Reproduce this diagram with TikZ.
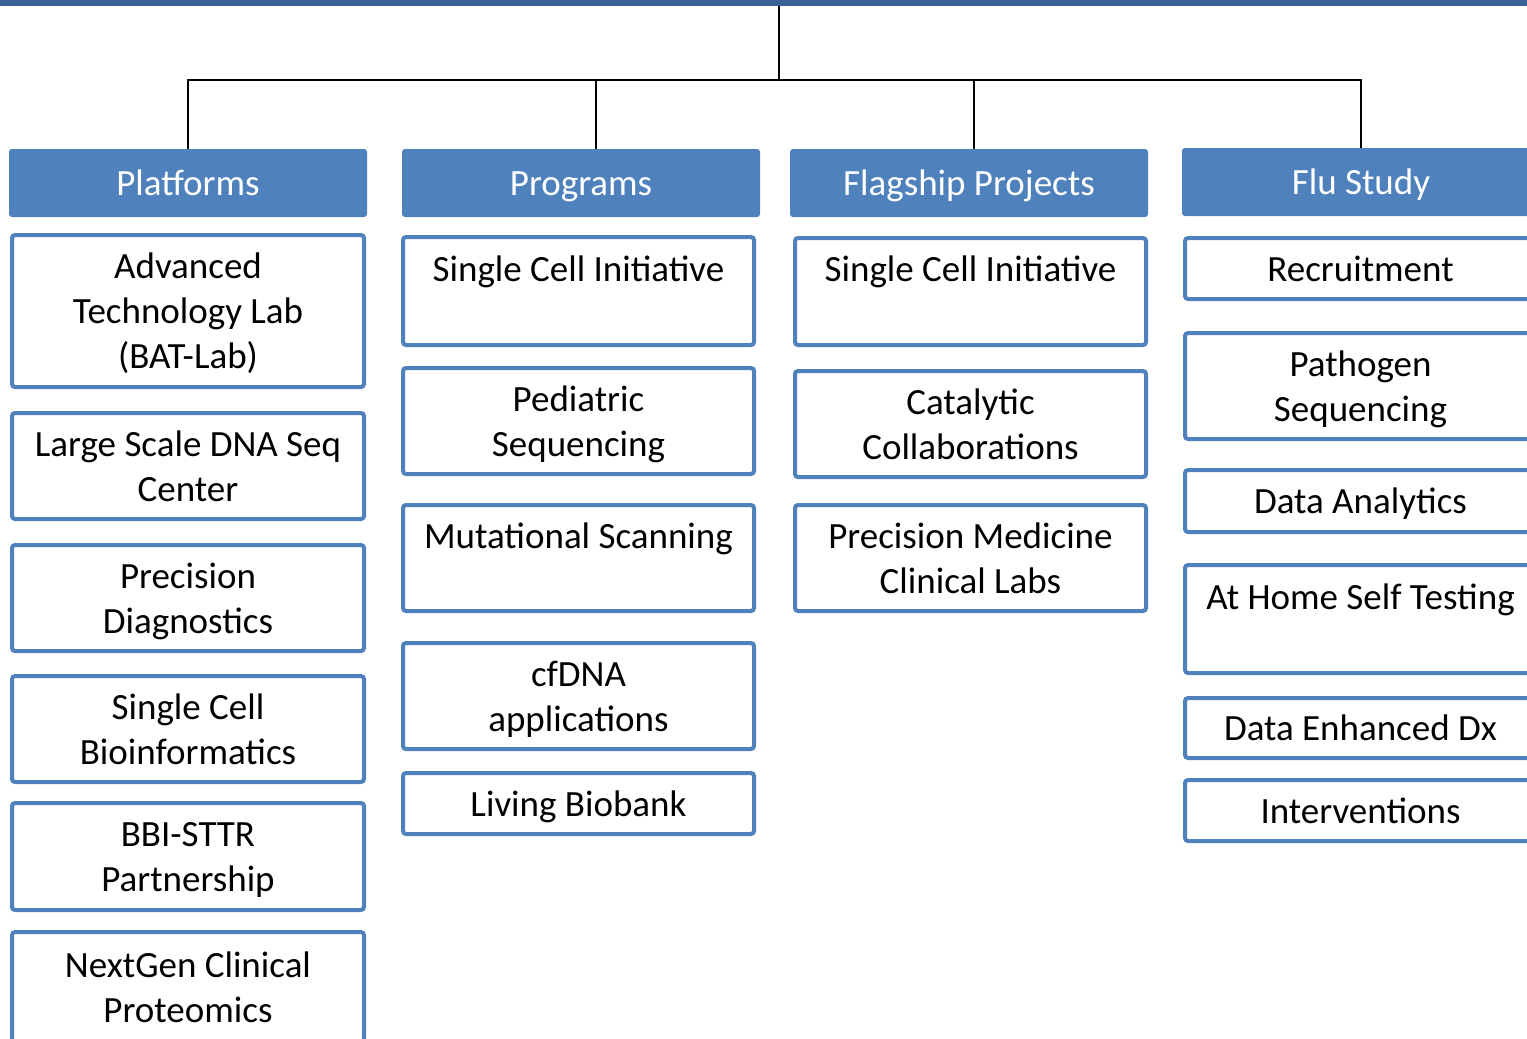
\documentclass[tikz,border=0pt]{standalone}
\usepackage{fontspec}
\setmainfont{Carlito}
\definecolor{hblue}{HTML}{4F81BD}
\definecolor{barblue}{HTML}{3A6294}
\newcommand{\ostrut}{\rule[-10pt]{0pt}{45pt}}
\tikzset{
  hdr/.style={fill=hblue, rounded corners=3pt, text=white, minimum width=358pt, minimum height=68pt, inner sep=0pt},
  item/.style={draw=hblue, line width=4pt, fill=white, rounded corners=3pt, inner sep=0pt, align=center, minimum width=351pt},
  conn/.style={draw=black, line width=2pt},
}
\begin{document}
\begin{tikzpicture}[x=1pt, y=-1pt, font=\fontsize{37}{45}\selectfont]
\clip (0,0) rectangle (1527,1039);
\fill[white] (0,0) rectangle (1527,1039);
% top bar
\node[fill=barblue, minimum width=1527pt, minimum height=5.5pt, inner sep=0pt, anchor=north west] (bar) at (0,0) {};
\coordinate (hub) at (779,80);
% headers
\node[hdr] (h1) at (188,183) {\ostrut Platforms};
\node[hdr] (h2) at (581,183) {\ostrut Programs};
\node[hdr] (h3) at (969,183) {\ostrut Flagship Projects};
\node[hdr] (h4) at (1361,182) {\ostrut Flu Study};
% connectors
\draw[conn] (bar.south -| hub) -- (hub);
\draw[conn] (hub) -| (h1.north);
\draw[conn] (hub) -| ([xshift=15pt]h2.north);
\draw[conn] (hub) -| ([xshift=5pt]h3.north);
\draw[conn] (hub) -| (h4.north);
% Platforms
\node[item, minimum width=352pt, minimum height=152pt] (p1) at (188,311) {\ostrut Advanced\\\ostrut Technology Lab\\\ostrut (BAT-Lab)};
\node[item, minimum width=352pt, minimum height=106pt] (p2) at (188,466) {\ostrut Large Scale DNA Seq\\\ostrut Center};
\node[item, minimum width=352pt, minimum height=106pt] (p3) at (188,598) {\ostrut Precision\\\ostrut Diagnostics};
\node[item, minimum width=352pt, minimum height=106pt] (p4) at (188,729) {\ostrut Single Cell\\\ostrut Bioinformatics};
\node[item, minimum width=352pt, minimum height=107pt] (p5) at (188,856.5) {\ostrut BBI-STTR\\\ostrut Partnership};
\node[item, minimum width=352pt, minimum height=110pt] (p6) at (188,987) {\ostrut NextGen Clinical\\\ostrut Proteomics};
% Programs
\node[item, minimum height=108pt] (g1) at (578.5,291) {\ostrut Single Cell Initiative\\\ostrut};
\node[item, minimum height=106pt] (g2) at (578.5,421) {\ostrut Pediatric\\\ostrut Sequencing};
\node[item, minimum height=106pt] (g3) at (578.5,558) {\ostrut Mutational Scanning\\\ostrut};
\node[item, minimum height=106pt] (g4) at (578.5,696) {\ostrut cfDNA\\\ostrut applications};
\node[item, minimum height=61pt] (g5) at (578.5,803.5) {\ostrut Living Biobank};
% Flagship
\node[item, minimum height=107pt] (f1) at (970.5,291.5) {\ostrut Single Cell Initiative\\\ostrut};
\node[item, minimum height=106pt] (f2) at (970.5,424) {\ostrut Catalytic\\\ostrut Collaborations};
\node[item, minimum height=106pt] (f3) at (970.5,558) {\ostrut Precision Medicine\\\ostrut Clinical Labs};
% Flu Study
\node[item, minimum height=61pt] (u1) at (1360.5,268.5) {\ostrut Recruitment};
\node[item, minimum height=106pt] (u2) at (1360.5,386) {\ostrut Pathogen\\\ostrut Sequencing};
\node[item, minimum height=62pt] (u3) at (1360.5,501) {\ostrut Data Analytics};
\node[item, minimum height=108pt] (u4) at (1360.5,619) {\ostrut At Home Self Testing\\\ostrut};
\node[item, minimum height=60pt] (u5) at (1360.5,728) {\ostrut Data Enhanced Dx};
\node[item, minimum height=61pt] (u6) at (1360.5,810.5) {\ostrut Interventions};
\end{tikzpicture}
\end{document}
